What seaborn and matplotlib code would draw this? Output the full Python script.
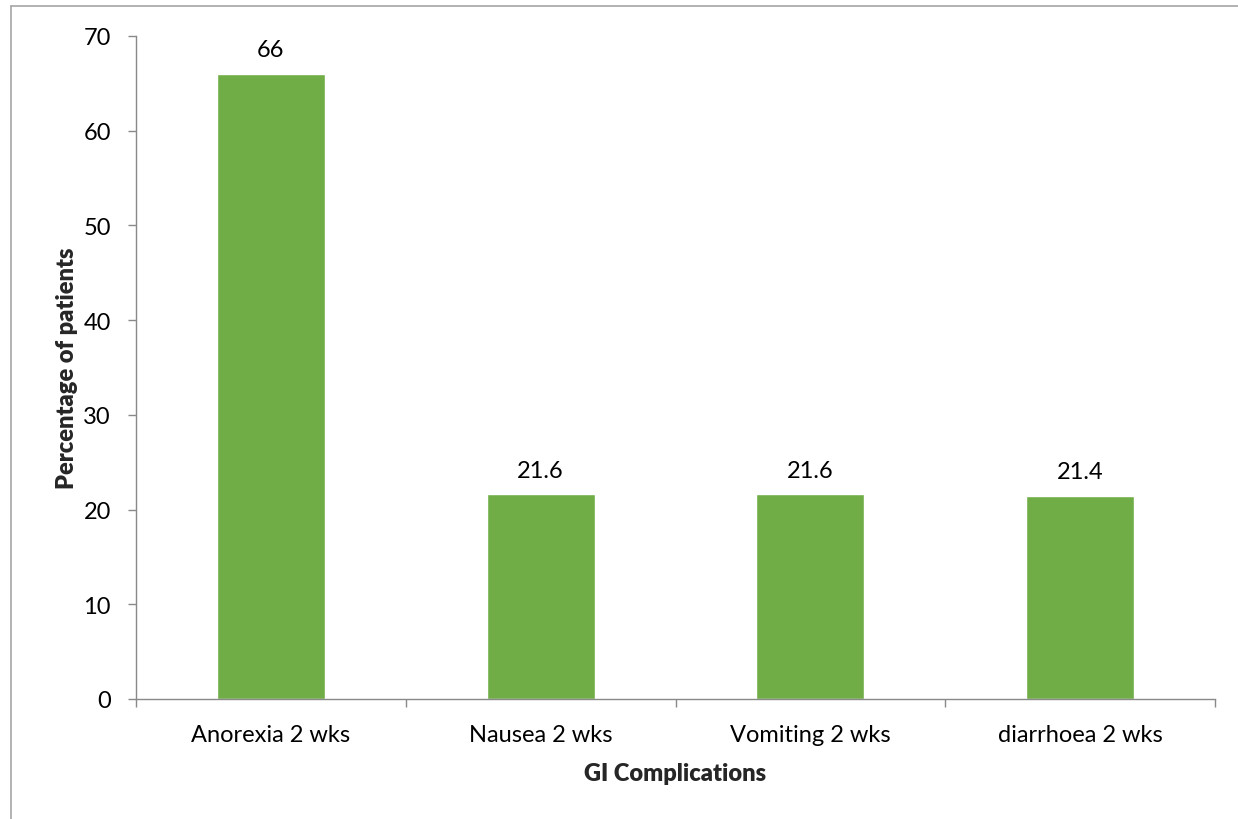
import matplotlib
matplotlib.use("Agg")
import matplotlib.pyplot as plt
from matplotlib.lines import Line2D
import seaborn as sns
import pandas as pd

categories = ["Anorexia 2 wks", "Nausea 2 wks", "Vomiting 2 wks", "diarrhoea 2 wks"]
percentages = [66, 21.6, 21.6, 21.4]
value_labels = ["66", "21.6", "21.6", "21.4"]
y_ticks = [0, 10, 20, 30, 40, 50, 60, 70]

sns.set_theme(style="white")
plt.rcParams["font.family"] = ["Lato", "DejaVu Sans"]

BAR = "#70AD47"
AXIS = "#898989"
FS = 17

df = pd.DataFrame({"complication": categories, "pct": percentages})

fig = plt.figure(figsize=(12.38, 8.2), dpi=100)
ax = fig.add_axes([136 / 1238, 120 / 820, (1215 - 136) / 1238, (700 - 37) / 820])

sns.barplot(data=df, x="complication", y="pct", color=BAR, saturation=1,
            width=0.4, ax=ax)

ax.set_xlim(-0.5, len(categories) - 0.5)
ax.set_ylim(0, 70)
ax.set_yticks(y_ticks)

for i, (v, lab) in enumerate(zip(percentages, value_labels)):
    ax.annotate(lab, (i, v), xytext=(0, 10), textcoords="offset points",
                ha="center", va="bottom", fontsize=FS, color="#000000")

# axis lines and ticks
for side in ["top", "right"]:
    ax.spines[side].set_visible(False)
for side in ["left", "bottom"]:
    ax.spines[side].set_color(AXIS)
    ax.spines[side].set_linewidth(1.0)

ax.tick_params(axis="y", which="major", direction="out", length=6, width=1,
               color=AXIS, pad=12, labelsize=FS, labelcolor="#000000", left=True)
ax.tick_params(axis="x", which="major", length=0, pad=18, labelsize=FS,
               labelcolor="#000000")
ax.set_xticks([i - 0.5 for i in range(len(categories) + 1)], minor=True)
ax.tick_params(axis="x", which="minor", direction="out", length=6, width=1,
               color=AXIS, bottom=True)

ax.set_xlabel("GI Complications", fontsize=FS, fontweight="heavy", labelpad=12)
ax.set_ylabel("Percentage of patients", fontsize=FS, fontweight="heavy", labelpad=4)

# outer frame of the figure
fig.add_artist(Line2D([11 / 1238, 11 / 1238], [0, 1 - 7 / 820],
                      transform=fig.transFigure, color="#A6A6A6", lw=1.2))
fig.add_artist(Line2D([11 / 1238, 1], [1 - 7 / 820, 1 - 7 / 820],
                      transform=fig.transFigure, color="#A6A6A6", lw=1.2))

fig.savefig("out.png", dpi=100, facecolor="white")
